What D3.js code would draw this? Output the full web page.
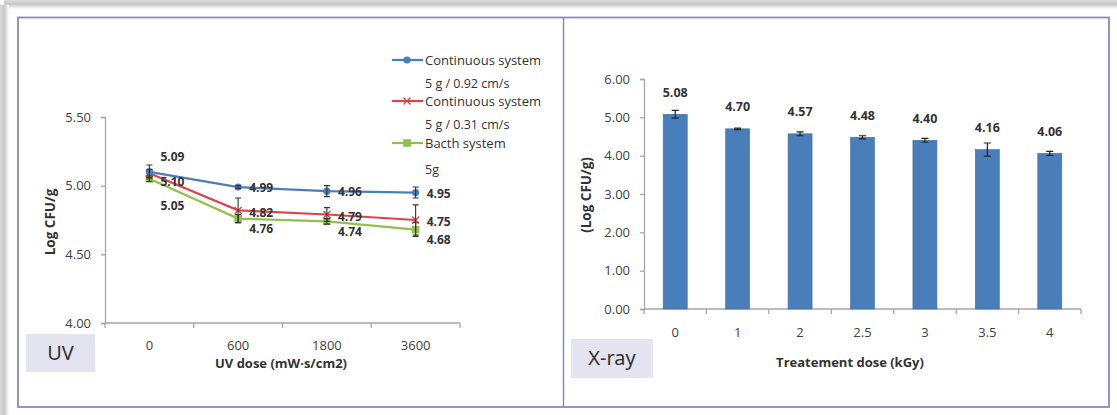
<!DOCTYPE html>
<html>
<head>
<meta charset="utf-8">
<script src="https://cdn.jsdelivr.net/npm/d3@7/dist/d3.min.js"></script>
<style>
  html, body { margin: 0; padding: 0; background: #fff; }
  svg { display: block; }
</style>
</head>
<body>
<svg id="fig" width="1117" height="415"></svg>
<script>
// ---- UV treatment (line chart) ----
const uvDoses = ["0", "600", "1800", "3600"];
const uvTicks = [4.0, 4.5, 5.0, 5.5];
const contFast = [5.10, 4.99, 4.96, 4.95];
const contFastErr = [0.05, 0.01, 0.04, 0.04];
const contSlow = [5.09, 4.82, 4.79, 4.75];
const contSlowErr = [0.03, 0.09, 0.05, 0.11];
const batch = [5.05, 4.76, 4.74, 4.68];
const batchErr = [0.02, 0.03, 0.02, 0.05];
const uvLegend = [
  ["Continuous system", "5 g / 0.92 cm/s"],
  ["Continuous system", "5 g / 0.31 cm/s"],
  ["Bacth system", "5g"]
];

// ---- X-ray treatment (bar chart) ----
const xrayDoses = ["0", "1", "2", "2.5", "3", "3.5", "4"];
const xrayLog = [5.08, 4.70, 4.57, 4.48, 4.40, 4.16, 4.06];
const xrayErr = [0.10, 0.02, 0.05, 0.04, 0.05, 0.17, 0.05];
const xrayTicks = [0, 1, 2, 3, 4, 5, 6];

const FONT = "'Open Sans', 'Liberation Sans', sans-serif";
const AXIS = "#a6a6a6";
const TEXT = "#404040";

const svg = d3.select("#fig");
const defs = svg.append("defs");

// soft frame shadow along the top and left edges
const gTop = defs.append("linearGradient").attr("id", "shTop")
  .attr("x1", 0).attr("y1", 0).attr("x2", 0).attr("y2", 1);
gTop.append("stop").attr("offset", "0%").attr("stop-color", "#dcdcdc");
gTop.append("stop").attr("offset", "45%").attr("stop-color", "#c6c6c6");
gTop.append("stop").attr("offset", "100%").attr("stop-color", "#ffffff");
const gLeft = defs.append("linearGradient").attr("id", "shLeft")
  .attr("x1", 0).attr("y1", 0).attr("x2", 1).attr("y2", 0);
gLeft.append("stop").attr("offset", "0%").attr("stop-color", "#dcdcdc");
gLeft.append("stop").attr("offset", "45%").attr("stop-color", "#c6c6c6");
gLeft.append("stop").attr("offset", "100%").attr("stop-color", "#ffffff");

svg.append("rect").attr("x", 4).attr("y", 0).attr("width", 1113).attr("height", 9).attr("fill", "url(#shTop)");
svg.append("rect").attr("x", 0).attr("y", 5).attr("width", 9).attr("height", 410).attr("fill", "url(#shLeft)");

// panel frame
const FRAME = "#8a86c8";
svg.append("rect").attr("x", 18).attr("y", 17.5).attr("width", 1091).attr("height", 389.5)
  .attr("fill", "#fff").attr("stroke", FRAME).attr("stroke-width", 1.8);
svg.append("line").attr("x1", 563.5).attr("x2", 563.5).attr("y1", 17.5).attr("y2", 407)
  .attr("stroke", FRAME).attr("stroke-width", 1.5);

function styleAxis(g) {
  g.select(".domain").attr("stroke", AXIS).attr("stroke-width", 1.3);
  g.selectAll(".tick line").attr("stroke", AXIS).attr("stroke-width", 1.3);
  g.selectAll(".tick text").attr("fill", TEXT).style("font-family", FONT).style("font-size", "13px");
}

// =================== UV panel ===================
const uv = svg.append("g");
const uvX = d3.scaleBand().domain(uvDoses).range([105, 460]);
const uvY = d3.scaleLinear().domain([4, 5.5]).range([323, 117]);

const uvYAxis = uv.append("g").attr("transform", "translate(105,0)")
  .call(d3.axisLeft(uvY).tickValues(uvTicks).tickFormat(d3.format(".2f")).tickSize(4).tickPadding(10));
styleAxis(uvYAxis);

// category axis with ticks at band boundaries
const uvXAxis = uv.append("g").attr("transform", "translate(0,323)")
  .call(d3.axisBottom(uvX).tickSize(0).tickPadding(18));
styleAxis(uvXAxis);
uvXAxis.select(".domain").attr("d", "M105,0H460");
uvXAxis.selectAll(".bound").data(d3.range(uvDoses.length + 1)).enter().append("line")
  .attr("x1", i => 105 + i * uvX.step()).attr("x2", i => 105 + i * uvX.step())
  .attr("y1", 0).attr("y2", 5).attr("stroke", AXIS).attr("stroke-width", 1.3);

uv.append("text").attr("x", 281).attr("y", 368).attr("text-anchor", "middle")
  .style("font-family", FONT).style("font-size", "13px").style("font-weight", "bold")
  .attr("fill", "#333").text("UV dose (mW·s/cm2)");
uv.append("text").attr("transform", "translate(55,222) rotate(-90)").attr("text-anchor", "middle")
  .style("font-family", FONT).style("font-size", "13.5px").style("font-weight", "bold")
  .attr("fill", "#333").text("Log CFU/g");

const uvSeries = [
  { values: contFast, errors: contFastErr, color: "#4a7ebb", marker: "circle", labelDy: 1, firstDy: 10 },
  { values: contSlow, errors: contSlowErr, color: "#d9464a", marker: "cross", labelDy: 2, firstDy: -17 },
  { values: batch, errors: batchErr, color: "#93bf4f", marker: "square", labelDy: 10, firstDy: 27 }
];

const cx = d => uvX(d) + uvX.bandwidth() / 2;
const line = d3.line().x((v, i) => cx(uvDoses[i])).y(v => uvY(v));

function drawMarker(g, type, x, y, color) {
  if (type === "circle") {
    g.append("circle").attr("cx", x).attr("cy", y).attr("r", 3.6).attr("fill", color);
  } else if (type === "square") {
    g.append("rect").attr("x", x - 3.8).attr("y", y - 3.8).attr("width", 7.6).attr("height", 7.6).attr("fill", color);
  } else {
    g.append("path").attr("d", `M${x - 3.5},${y - 3.5}L${x + 3.5},${y + 3.5}M${x - 3.5},${y + 3.5}L${x + 3.5},${y - 3.5}`)
      .attr("stroke", color).attr("stroke-width", 1.4);
  }
}

// lines in back-to-front order
[...uvSeries].reverse().forEach(s => {
  uv.append("path").datum(s.values).attr("d", line).attr("fill", "none")
    .attr("stroke", s.color).attr("stroke-width", 2.2);
  s.values.forEach((v, i) => drawMarker(uv, s.marker, cx(uvDoses[i]), uvY(v), s.color));
});

// error bars
uvSeries.forEach(s => {
  s.values.forEach((v, i) => {
    const x = cx(uvDoses[i]);
    const y1 = uvY(v + s.errors[i]), y2 = uvY(v - s.errors[i]);
    uv.append("path").attr("d", `M${x},${y1}V${y2}M${x - 3},${y1}H${x + 3}M${x - 3},${y2}H${x + 3}`)
      .attr("stroke", "#333").attr("stroke-width", 1.1).attr("fill", "none");
  });
});

// value labels
uvSeries.forEach(s => {
  s.values.forEach((v, i) => {
    uv.append("text").attr("x", cx(uvDoses[i]) + 11).attr("y", uvY(v) + (i === 0 ? s.firstDy : s.labelDy))
      .attr("dy", "0.35em").style("font-family", FONT).style("font-size", "12px").style("font-weight", "bold")
      .attr("fill", "#333").text(v.toFixed(2));
  });
});

// legend: series name beside the swatch, sample description underneath
const legRowY = [60, 101, 143];
uvLegend.forEach((lines, i) => {
  const y = legRowY[i];
  const s = uvSeries[i];
  uv.append("line").attr("x1", 392).attr("x2", 423).attr("y1", y).attr("y2", y)
    .attr("stroke", s.color).attr("stroke-width", 2.2);
  drawMarker(uv, s.marker, 407, y, s.color);
  uv.append("text").attr("x", 425).attr("y", y).attr("dy", "0.35em")
    .style("font-family", FONT).style("font-size", "13px").attr("fill", "#333").text(lines[0]);
  uv.append("text").attr("x", 425).attr("y", y + (i === 2 ? 27 : 24)).attr("dy", "0.35em")
    .style("font-family", FONT).style("font-size", "12.5px").attr("fill", "#333").text(lines[1]);
});

// panel tag
uv.append("rect").attr("x", 26).attr("y", 334).attr("width", 69).attr("height", 38).attr("fill", "#e4e4f1");
uv.append("text").attr("x", 60.5).attr("y", 353).attr("dy", "0.36em").attr("text-anchor", "middle")
  .style("font-family", "'Noto Sans', sans-serif").style("font-size", "20px").attr("fill", "#333").text("UV");

// =================== X-ray panel ===================
const xr = svg.append("g");
const xrX = d3.scaleBand().domain(xrayDoses).range([644, 1081]).paddingInner(0.615).paddingOuter(0.3075);
const xrY = d3.scaleLinear().domain([0, 6]).range([309, 79]);

const xrYAxis = xr.append("g").attr("transform", "translate(644,0)")
  .call(d3.axisLeft(xrY).tickValues(xrayTicks).tickFormat(d3.format(".2f")).tickSize(4).tickPadding(10));
styleAxis(xrYAxis);

const xrXAxis = xr.append("g").attr("transform", "translate(0,309)")
  .call(d3.axisBottom(xrX).tickSize(0).tickPadding(19));
styleAxis(xrXAxis);
xrXAxis.select(".domain").attr("d", "M644,0H1081");
const step = (1081 - 644) / xrayDoses.length;
xrXAxis.selectAll(".bound").data(d3.range(xrayDoses.length + 1)).enter().append("line")
  .attr("x1", i => 644 + i * step).attr("x2", i => 644 + i * step)
  .attr("y1", 0).attr("y2", 5).attr("stroke", AXIS).attr("stroke-width", 1.3);

xr.selectAll("rect.bar").data(xrayLog).enter().append("rect").attr("class", "bar")
  .attr("x", (d, i) => xrX(xrayDoses[i])).attr("width", xrX.bandwidth())
  .attr("y", d => xrY(d)).attr("height", d => xrY(0) - xrY(d))
  .attr("fill", "#4a7ebb").attr("stroke", "#41719f").attr("stroke-width", 0.6);

xrayLog.forEach((v, i) => {
  const x = xrX(xrayDoses[i]) + xrX.bandwidth() / 2;
  const y1 = xrY(v + xrayErr[i]), y2 = xrY(v - xrayErr[i]);
  xr.append("path").attr("d", `M${x},${y1}V${y2}M${x - 3.5},${y1}H${x + 3.5}M${x - 3.5},${y2}H${x + 3.5}`)
    .attr("stroke", "#222").attr("stroke-width", 1.2).attr("fill", "none");
  xr.append("text").attr("x", x).attr("y", xrY(v) - 22).attr("dy", "0.35em").attr("text-anchor", "middle")
    .style("font-family", FONT).style("font-size", "12.5px").style("font-weight", "bold")
    .attr("fill", "#333").text(v.toFixed(2));
});

xr.append("text").attr("x", 850).attr("y", 367).attr("text-anchor", "middle")
  .style("font-family", FONT).style("font-size", "13px").style("font-weight", "bold")
  .attr("fill", "#333").text("Treatement dose (kGy)");
xr.append("text").attr("transform", "translate(591,195) rotate(-90)").attr("text-anchor", "middle")
  .style("font-family", FONT).style("font-size", "13.5px").style("font-weight", "bold")
  .attr("fill", "#333").text("(Log CFU/g)");

xr.append("rect").attr("x", 571).attr("y", 339).attr("width", 82).attr("height", 39).attr("fill", "#e4e4f1");
xr.append("text").attr("x", 612).attr("y", 358).attr("dy", "0.36em").attr("text-anchor", "middle")
  .style("font-family", "'Noto Sans', sans-serif").style("font-size", "20px").attr("fill", "#333").text("X-ray");
</script>
</body>
</html>
